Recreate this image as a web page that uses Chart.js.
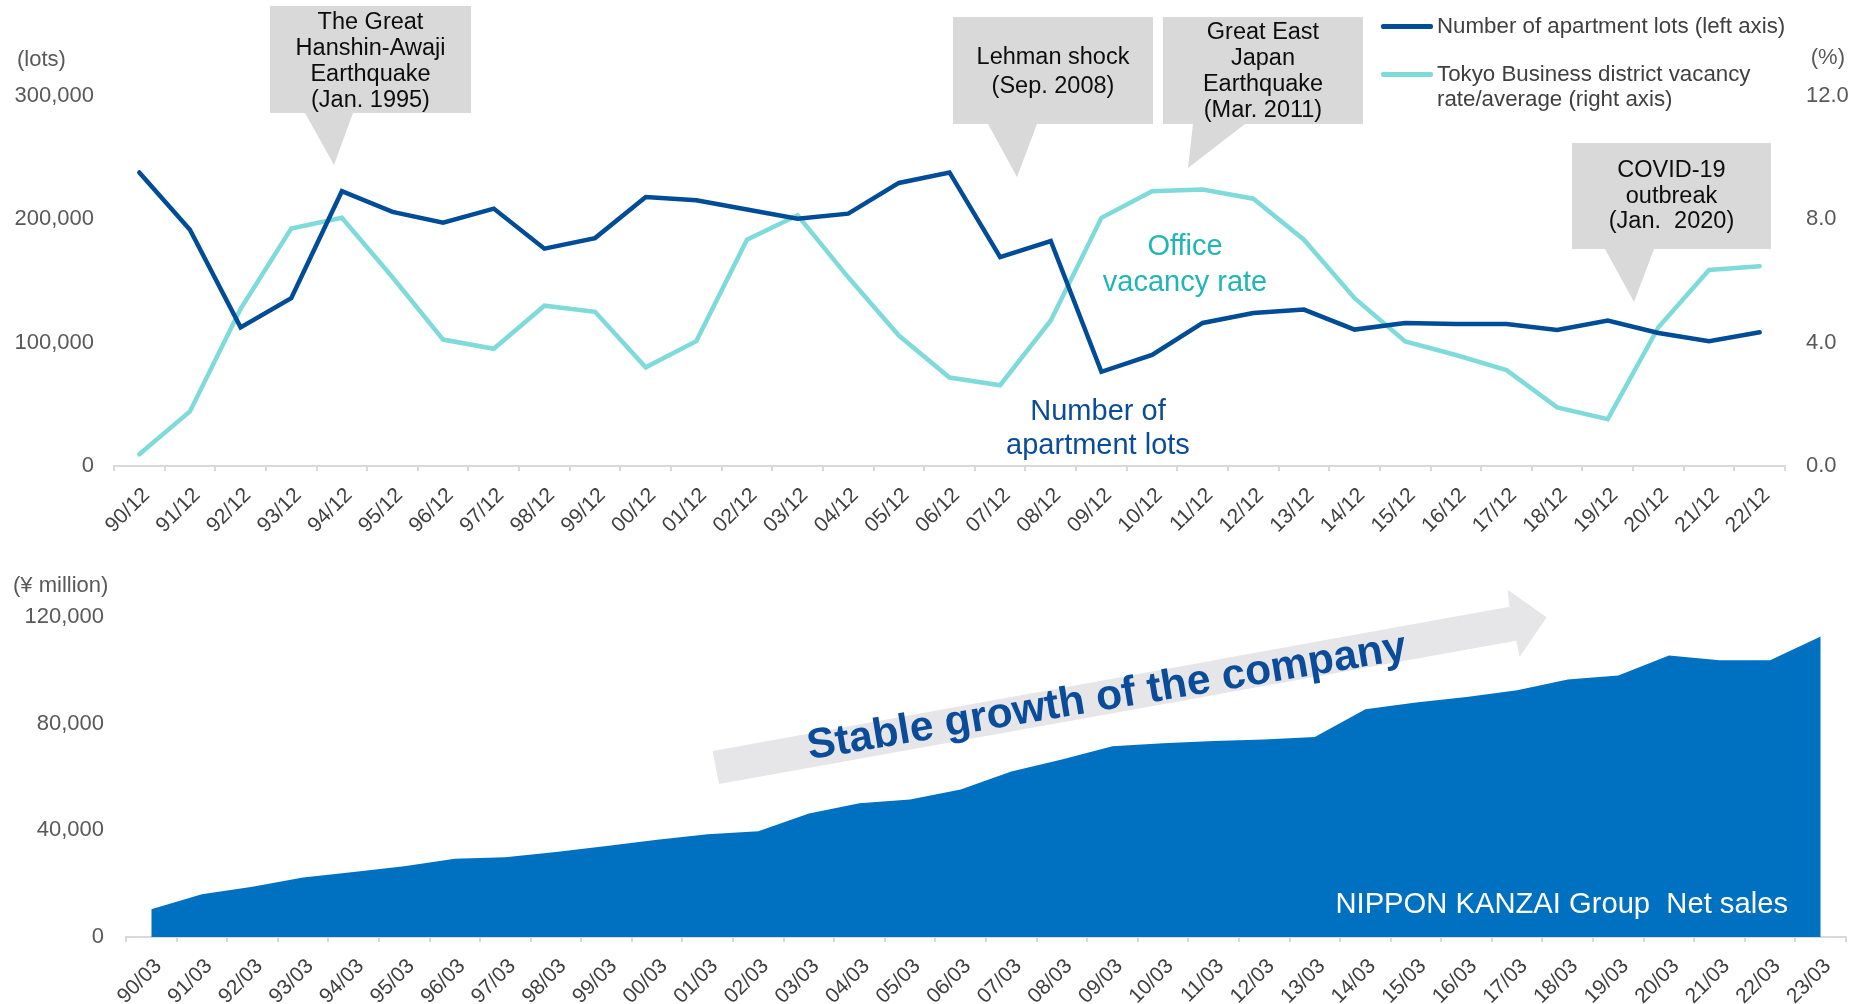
<!DOCTYPE html>
<html>
<head>
<meta charset="utf-8">
<script src="https://cdn.jsdelivr.net/npm/chart.js@4.4.1/dist/chart.umd.min.js"></script>
<style>
  html, body { margin: 0; padding: 0; background: #ffffff; }
  #wrap { position: relative; width: 1863px; height: 1004px; overflow: hidden; font-family: 'Liberation Sans', Arial, sans-serif; }
  canvas { position: absolute; left: 0; }
  #topCanvas { top: 0; }
  #bottomCanvas { top: 560px; }
  .t { position: absolute; white-space: pre; }
  .callout { position: absolute; background: #D9D9D9; }
  .ctext { position: absolute; text-align: center; color: #0D0D0D; font-size: 23.5px; white-space: pre; }
</style>
</head>
<body>
<div id="wrap">
  <canvas id="topCanvas" width="1863" height="550"></canvas>
  <canvas id="bottomCanvas" width="1863" height="444"></canvas>

  <!-- growth arrow -->
  <div class="callout" style="left:700px;top:580px;width:860px;height:210px;background:#E6E6E8;
       clip-path: polygon(12.6px 171px, 809.4px 26.7px, 807.6px 9.8px, 846.7px 37.3px, 819.7px 76.7px, 816.3px 60.7px, 19px 204px);"></div>

  <!-- callouts -->
  <div class="callout" style="left:270px;top:6px;width:201px;height:160px;clip-path: polygon(0 0,201px 0,201px 107px,83px 107px,64px 159px,35px 107px,0 107px);"></div>
  <div class="ctext" style="left:270px;top:8px;width:201px;line-height:26px;">The Great
Hanshin-Awaji
Earthquake
(Jan. 1995)</div>

  <div class="callout" style="left:953px;top:17px;width:200px;height:160px;clip-path: polygon(0 0,200px 0,200px 107px,84px 107px,64px 160px,35px 107px,0 107px);"></div>
  <div class="ctext" style="left:953px;top:42px;width:200px;line-height:28.5px;">Lehman shock
(Sep. 2008)</div>

  <div class="callout" style="left:1163px;top:17px;width:200px;height:151px;clip-path: polygon(0 0,200px 0,200px 107px,82px 107px,25px 151px,30px 107px,0 107px);"></div>
  <div class="ctext" style="left:1163px;top:18px;width:200px;line-height:26px;">Great East
Japan
Earthquake
(Mar. 2011)</div>

  <div class="callout" style="left:1572px;top:143px;width:199px;height:159px;clip-path: polygon(0 0,199px 0,199px 106px,82px 106px,62px 159px,33px 106px,0 106px);"></div>
  <div class="ctext" style="left:1572px;top:157px;width:199px;line-height:25.5px;">COVID-19
outbreak
(Jan.  2020)</div>

  <!-- legend -->
  <div style="position:absolute;left:1381px;top:24px;width:52px;height:4.5px;border-radius:2px;background:#004C97;"></div>
  <div class="t" style="left:1437px;top:13px;font-size:22.3px;line-height:26px;color:#404040;">Number of apartment lots (left axis)</div>
  <div style="position:absolute;left:1381px;top:72px;width:52px;height:4.5px;border-radius:2px;background:#7FDBDA;"></div>
  <div class="t" style="left:1437px;top:61px;font-size:22.3px;line-height:25.3px;color:#404040;">Tokyo Business district vacancy
rate/average (right axis)</div>

  <!-- axis unit labels -->
  <div class="t" style="left:17px;top:46px;font-size:22px;line-height:26px;color:#595959;">(lots)</div>
  <div class="t" style="right:18px;top:44px;font-size:22px;line-height:26px;color:#595959;">(%)</div>
  <div class="t" style="left:13px;top:572px;font-size:22px;line-height:26px;color:#595959;">(¥ million)</div>

  <!-- series labels -->
  <div class="t" style="left:1085px;top:228px;width:200px;text-align:center;font-size:29px;line-height:35.6px;color:#22B5B5;">Office
vacancy rate</div>
  <div class="t" style="left:998px;top:393px;width:200px;text-align:center;font-size:29px;line-height:34px;color:#0B4C9A;">Number of
apartment lots</div>
  <div class="t" style="right:75px;top:886px;font-size:29.2px;line-height:34px;color:#ffffff;">NIPPON KANZAI Group  Net sales</div>

  <div class="t" style="left:803px;top:675px;width:600px;text-align:center;font-size:42.5px;line-height:42px;font-weight:bold;color:#0B4C9A;transform:rotate(-9.5deg);transform-origin:50% 50%;">Stable growth of the company</div>
</div>

<script>
// ---------- data ----------
const topLabels = ['90/12','91/12','92/12','93/12','94/12','95/12','96/12','97/12','98/12','99/12',
  '00/12','01/12','02/12','03/12','04/12','05/12','06/12','07/12','08/12','09/12',
  '10/12','11/12','12/12','13/12','14/12','15/12','16/12','17/12','18/12','19/12',
  '20/12','21/12','22/12'];
const apartmentLots = [238000,191600,112400,136000,222800,206000,197300,208700,176200,184800,
  218100,215400,208000,200500,204600,229500,238000,169400,182400,76400,
  90000,116000,124100,126800,110600,116000,115200,115200,110300,117900,
  107900,101100,108400];
const vacancyRate = [0.38,1.77,5.1,7.7,8.05,6.12,4.1,3.8,5.2,5.0,
  3.2,4.05,7.34,8.13,6.12,4.23,2.87,2.62,4.72,8.05,
  8.91,8.97,8.67,7.34,5.44,4.04,3.6,3.11,1.9,1.52,
  4.5,6.36,6.48];
const leftTicks = [0,100000,200000,300000];
const rightTicks = [0,4,8,12];

const bottomLabels = ['90/03','91/03','92/03','93/03','94/03','95/03','96/03','97/03','98/03','99/03',
  '00/03','01/03','02/03','03/03','04/03','05/03','06/03','07/03','08/03','09/03',
  '10/03','11/03','12/03','13/03','14/03','15/03','16/03','17/03','18/03','19/03',
  '20/03','21/03','22/03','23/03'];
const netSales = [10400,16000,18800,22300,24400,26500,29300,29900,31900,34100,
  36500,38500,39700,46300,50200,51600,55300,62100,66600,71500,
  72700,73500,74100,75000,85400,87900,90000,92500,96600,98100,
  105600,103800,103800,112700];
const salesTicks = [0,40000,80000,120000];

// ---------- chart setup ----------
const FONT = "'Liberation Sans', Arial, sans-serif";
Chart.defaults.font.family = FONT;

const xAxisCommon = (h) => ({
  offset: true,
  grid: { offset: true, drawOnChartArea: false, drawTicks: true, tickLength: 5, color: '#D9D9D9', lineWidth: 2 },
  border: { display: true, color: '#D9D9D9', width: 2 },
  ticks: { autoSkip: false, maxRotation: 45, minRotation: 45, font: { size: 21 }, color: '#404040', padding: 12, labelOffset: 7 },
  afterFit: (s) => { s.height = h; }
});

new Chart(document.getElementById('topCanvas'), {
  type: 'line',
  data: {
    labels: topLabels,
    datasets: [
      { label: 'Number of apartment lots (left axis)', data: apartmentLots, yAxisID: 'y',
        borderColor: '#004C97', borderWidth: 4.5, pointRadius: 0, tension: 0, borderCapStyle: 'round' },
      { label: 'Tokyo Business district vacancy rate/average (right axis)', data: vacancyRate, yAxisID: 'y1',
        borderColor: '#7FDBDA', borderWidth: 4.5, pointRadius: 0, tension: 0, borderCapStyle: 'round' }
    ]
  },
  options: {
    responsive: false, animation: false, devicePixelRatio: 1,
    layout: { padding: { top: 96, left: 0, right: 0, bottom: 0 } },
    plugins: { legend: { display: false }, tooltip: { enabled: false } },
    scales: {
      x: xAxisCommon(84),
      y: {
        position: 'left', min: 0, max: 300000,
        afterBuildTicks: (s) => { s.ticks = leftTicks.map(v => ({ value: v })); },
        ticks: { font: { size: 22 }, color: '#595959', padding: 20, callback: (v) => Number(v).toLocaleString('en-US') },
        grid: { display: false, drawTicks: false }, border: { display: false },
        afterFit: (s) => { s.width = 114; }
      },
      y1: {
        position: 'right', min: 0, max: 12,
        afterBuildTicks: (s) => { s.ticks = rightTicks.map(v => ({ value: v })); },
        ticks: { font: { size: 22 }, color: '#595959', padding: 21, callback: (v) => Number(v).toFixed(1) },
        grid: { display: false, drawTicks: false }, border: { display: false },
        afterFit: (s) => { s.width = 78; }
      }
    }
  }
});

new Chart(document.getElementById('bottomCanvas'), {
  type: 'line',
  data: {
    labels: bottomLabels,
    datasets: [
      { label: 'NIPPON KANZAI Group Net sales', data: netSales, fill: 'origin',
        backgroundColor: '#0070C0', borderColor: '#0070C0', borderWidth: 0, pointRadius: 0, tension: 0 }
    ]
  },
  options: {
    responsive: false, animation: false, devicePixelRatio: 1,
    layout: { padding: { top: 57, left: 0, right: 17, bottom: 0 } },
    plugins: { legend: { display: false }, tooltip: { enabled: false } },
    scales: {
      x: xAxisCommon(67),
      y: {
        position: 'left', min: 0, max: 120000,
        afterBuildTicks: (s) => { s.ticks = salesTicks.map(v => ({ value: v })); },
        ticks: { font: { size: 22 }, color: '#595959', padding: 22, callback: (v) => Number(v).toLocaleString('en-US') },
        grid: { display: false, drawTicks: false }, border: { display: false },
        afterFit: (s) => { s.width = 126; }
      }
    }
  }
});
</script>
</body>
</html>
